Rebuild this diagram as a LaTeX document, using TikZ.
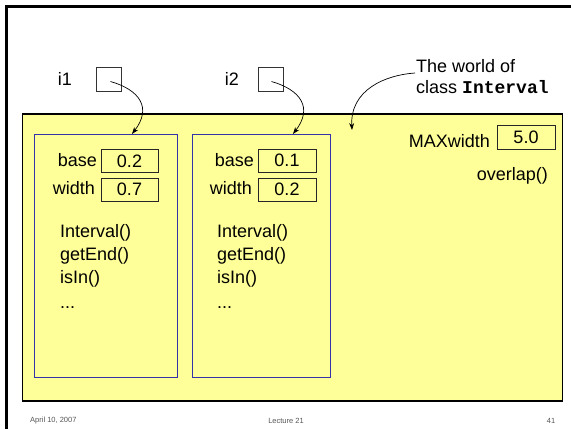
\documentclass[tikz,border=0pt]{standalone}
\usepackage{fontspec}
\setmainfont{Liberation Sans}
\setmonofont{Liberation Mono}
\usetikzlibrary{arrows.meta}
\definecolor{pale}{HTML}{FFFF99}
\definecolor{objblue}{HTML}{3333AA}
\definecolor{footgray}{HTML}{555555}

\begin{document}
\begin{tikzpicture}[x=1pt,y=-1pt,
  txt/.style={font=\fontsize{18}{20}\selectfont, inner sep=0pt},
  foot/.style={font=\fontsize{7.5}{9}\selectfont, text=footgray, inner sep=0pt},
  world/.style={draw=black, line width=1.2pt, fill=pale, inner sep=0pt},
  object/.style={draw=objblue, line width=0.8pt, inner sep=0pt},
  valbox/.style={draw=black!85, line width=0.8pt, inner sep=0pt, minimum height=23pt,
                 font=\fontsize{18}{20}\selectfont},
  refbox/.style={draw=black!80, line width=0.8pt, inner sep=0pt,
                 minimum width=25pt, minimum height=24pt},
  ptr/.style={line width=0.7pt, -{Stealth[length=7pt,width=5pt]}}
]
\useasboundingbox (0,0) rectangle (571,429);

% slide frame
\draw[line width=3pt] (6.5,429) -- (6.5,6.5) -- (571,6.5);

% reference variables
\node[txt] (i1lbl) at (65,79) {i1};
\node[refbox] (i1) at (108.5,79) {};
\node[txt] (i2lbl) at (232,79) {i2};
\node[refbox] (i2) at (270.5,79) {};

% class world and its two objects
\node[world, minimum width=540pt, minimum height=287pt] (cls) at (292.75,257.5) {};
\node[object, minimum width=143pt, minimum height=243pt] (obj1) at (105.5,255.5) {};
\node[object, minimum width=138pt, minimum height=243pt] (obj2) at (261,255.5) {};

% caption for the class
\node[txt, anchor=base west] (cap1) at (416,72) {The world of};
\node[txt, anchor=base west] (cap2) at (416,93) {class \textbf{\ttfamily Interval}};

% static members
\node[txt, anchor=base east] (maxl) at (490,147) {MAXwidth};
\node[valbox, minimum width=58pt, minimum height=24pt] (maxv) at (526,137) {5.0};
\node[txt, anchor=base east] (ovl) at (548,180) {overlap()};

% object 1 fields and methods
\node[txt, anchor=base east] (b1l) at (97,166) {base};
\node[valbox, minimum width=57pt] (b1v) at (129.5,161) {0.2};
\node[txt, anchor=base east] (w1l) at (95,194) {width};
\node[valbox, minimum width=57pt] (w1v) at (129.5,189.5) {0.7};
\node[txt, anchor=base west] (m1a) at (60,237) {Interval()};
\node[txt, anchor=base west] (m1b) at (60,260) {getEnd()};
\node[txt, anchor=base west] (m1c) at (60,283) {isIn()};
\node[txt, anchor=base west] (m1d) at (60,308) {...};

% object 2 fields and methods
\node[txt, anchor=base east] (b2l) at (254,166) {base};
\node[valbox, minimum width=58pt] (b2v) at (287,160.5) {0.1};
\node[txt, anchor=base east] (w2l) at (252,194) {width};
\node[valbox, minimum width=58pt] (w2v) at (287,189.5) {0.2};
\node[txt, anchor=base west] (m2a) at (217,237) {Interval()};
\node[txt, anchor=base west] (m2b) at (217,260) {getEnd()};
\node[txt, anchor=base west] (m2c) at (217,283) {isIn()};
\node[txt, anchor=base west] (m2d) at (217,308) {...};

% pointers
\coordinate (p1) at (110.5,81.5);
\coordinate (t1) at (132,134);
\coordinate (p2) at (271.5,81.5);
\coordinate (t2) at (293,134);
\coordinate (pw) at (415,73);
\coordinate (tw) at (352,130);
\draw[ptr] (p1) .. controls (140,90) and (152,108) .. (t1);
\draw[ptr] (p2) .. controls (301,90) and (313,108) .. (t2);
\draw[ptr] (pw) .. controls (385,75) and (350,90) .. (tw);

% footer
\node[foot, anchor=west] (date) at (30,421) {April 10, 2007};
\node[foot] (lect) at (286,421) {Lecture 21};
\node[foot] (page) at (551,421) {41};
\end{tikzpicture}
\end{document}
